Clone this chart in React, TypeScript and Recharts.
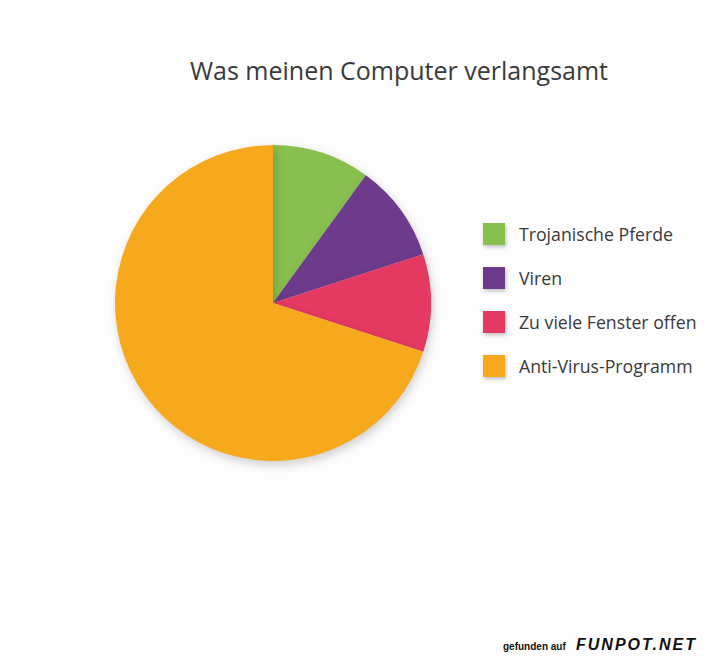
import React from "react";
import { PieChart, Pie, Cell, Legend } from "recharts";

const categories = ["Trojanische Pferde", "Viren", "Zu viele Fenster offen", "Anti-Virus-Programm"];
const values = [10, 10, 10, 70];
const colors = ["#88c04f", "#6d3a8c", "#e43a62", "#f7a91d"];
const title = "Was meinen Computer verlangsamt";

const data = categories.map((name, i) => ({ name, value: values[i] }));

const FONT = "'Open Sans', 'Noto Sans', sans-serif";

const renderLegend = () => (
  <div style={{ fontFamily: FONT }}>
    {categories.map((c, i) => (
      <div key={c} style={{ display: "flex", alignItems: "center", height: 44 }}>
        <div
          style={{
            width: 22,
            height: 22,
            background: colors[i],
            boxShadow: "1px 2px 4px rgba(0,0,0,0.25)",
            marginRight: 14,
          }}
        />
        <span style={{ fontSize: 17.7, color: "#3a3a3a", whiteSpace: "nowrap" }}>{c}</span>
      </div>
    ))}
  </div>
);

export default function App() {
  return (
    <div
      style={{
        position: "absolute",
        left: 0,
        top: 0,
        width: 728,
        height: 657,
        background: "#fdfdfd",
        overflow: "hidden",
      }}
    >
      <div
        style={{
          position: "absolute",
          left: 0,
          top: 55,
          width: 798,
          textAlign: "center",
          fontFamily: FONT,
          fontSize: 25,
          color: "#3a3a3a",
          lineHeight: "30px",
        }}
      >
        {title}
      </div>
      <PieChart
        width={728}
        height={657}
        margin={{ top: 0, right: 0, bottom: 0, left: 0 }}
        style={{ position: "absolute", left: 0, top: 0 }}
      >
        <Pie
          data={data}
          dataKey="value"
          nameKey="name"
          cx={273}
          cy={303}
          outerRadius={158}
          startAngle={90}
          endAngle={-270}
          stroke="none"
          isAnimationActive={false}
          style={{ filter: "drop-shadow(2px 4px 5px rgba(0,0,0,0.18))" }}
        >
          {data.map((d, i) => (
            <Cell key={d.name} fill={colors[i]} />
          ))}
        </Pie>
        <Legend
          content={renderLegend}
          wrapperStyle={{ position: "absolute", left: 483, top: 212, width: 240 }}
        />
      </PieChart>
      <div
        style={{
          position: "absolute",
          left: 503,
          top: 641,
          fontFamily: "'Liberation Sans', Arial, sans-serif",
          fontSize: 10,
          fontWeight: 700,
          color: "#111",
        }}
      >
        gefunden auf
      </div>
      <div
        style={{
          position: "absolute",
          left: 576,
          top: 636,
          fontFamily: "'Liberation Sans', Arial, sans-serif",
          fontSize: 16,
          fontWeight: 900,
          fontStyle: "italic",
          letterSpacing: 2,
          color: "#111",
        }}
      >
        FUNPOT.NET
      </div>
    </div>
  );
}
